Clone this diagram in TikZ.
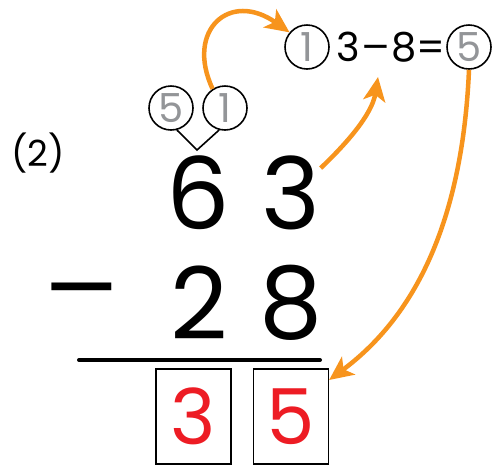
\documentclass[tikz,border=0pt]{standalone}
\usepackage{fontspec}
\setmainfont{Poppins}
\usetikzlibrary{arrows.meta,positioning}
\definecolor{carryorange}{HTML}{F7941D}
\definecolor{answerred}{HTML}{ED1C24}
\definecolor{hintgray}{HTML}{939598}
\newcommand{\longminus}[1]{\scalebox{#1}[1]{−}}

\begin{document}
\begin{tikzpicture}[x=1pt, y=-1pt, >=Stealth,
  digit/.style={font=\fontsize{100}{100}\selectfont, inner sep=0pt},
  hint/.style={circle, draw, line width=1.6pt, minimum size=44pt, inner sep=0pt,
    text=hintgray, font=\fontsize{40}{40}\selectfont},
  ansbox/.style={draw, line width=1.2pt, minimum width=75pt, minimum height=95pt,
    inner sep=0pt, text=answerred, font=\fontsize{77}{77}\selectfont},
  carry/.style={->, carryorange, line width=4.5pt,
    >={Stealth[length=24pt,width=22pt,inset=6pt]}}]

\useasboundingbox (0,0) rectangle (494,467);

% Problem number
\node[font=\fontsize{36}{36}\selectfont, inner sep=0pt] (num) at (38,153) {(2)};

% Column subtraction
\node[digit] (top6) at (198,193) {6};
\node[digit] (top3) at (291,193) {3};
\node[digit] (minus) at (82,303) {\longminus{1.5}};
\node[digit] (bot2) at (199,303) {2};
\node[digit] (bot8) at (291,303) {8};
\draw[line width=4pt, line cap=round] (79,360) -- (320,360);

% Answer boxes
\node[ansbox] (ans3) at (193.5,416.5) {3};
\node[ansbox] (ans5) at (291,416.5) {5};

% Splitting 6 into 5 and 1
\node[hint] (split5) at (171,108) {5};
\node[hint] (split1) at (225,108) {1};
\coordinate (vtip) at (197,150);
\draw[line width=1.6pt] (split5.-75) -- (vtip) -- (split1.-105);

% Side calculation
\node[hint] (side1) at (307,47) {1};
\node[font=\fontsize{40}{40}\selectfont, inner sep=0pt] (sidecalc) at (391,47)
  {3\longminus{1.4}8=};
\node[hint] (side5) at (469,47) {5};

% Carry arrows
\coordinate (tip2) at (378,77);
\draw[carry] (split1.123) .. controls (185,30) and (230,-10) .. (side1.140);
\draw[carry] (top3.40) .. controls (345,145) and (372,115) .. (tip2);
\draw[carry] (side5.south) .. controls (462,230) and (410,320) .. (ans5.east |- 0,380);

\end{tikzpicture}
\end{document}
